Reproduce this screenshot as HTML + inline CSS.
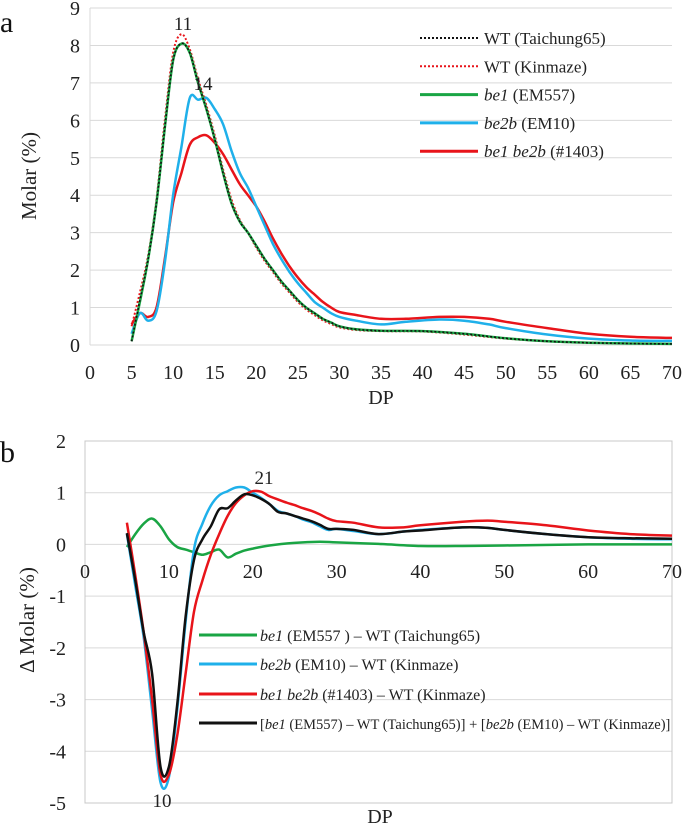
<!DOCTYPE html>
<html><head><meta charset="utf-8"><style>
html,body{margin:0;padding:0;background:#fff;}
svg{display:block;}
svg text{font-family:"Liberation Serif","Noto Serif CJK SC",serif;}
</style></head><body>
<svg id="chart" width="685" height="825" viewBox="0 0 685 825" font-family="Liberation Serif, serif">
<g id="gA"></g>
<g id="gB"></g>
</svg>
<script>
// ---- Panel a data ----
const aX1 = [5,6,7,8,9,10,11,12,13,14,15,16,17,18,19,20,21,22,23,24,25,26,27,28,29,30,32,35,40,45,50,55,60,65,70];
const aTaichung = [0.1,1.2,2.3,3.8,5.8,7.6,8.05,7.8,7.0,6.3,5.5,4.6,3.8,3.3,3.0,2.65,2.3,2.0,1.7,1.45,1.2,1.0,0.85,0.7,0.6,0.5,0.42,0.38,0.37,0.3,0.18,0.1,0.06,0.04,0.03];
const aKinmaze = [0.5,1.4,2.4,3.9,6.0,7.8,8.3,7.9,7.1,6.4,5.6,4.7,3.9,3.35,3.0,2.6,2.25,1.95,1.65,1.4,1.15,0.95,0.8,0.66,0.56,0.47,0.4,0.37,0.36,0.28,0.17,0.1,0.06,0.04,0.03];
const aBe1 = [0.1,1.15,2.3,3.8,5.8,7.6,8.05,7.8,7.0,6.3,5.5,4.6,3.8,3.3,3.0,2.65,2.3,2.0,1.7,1.45,1.2,1.0,0.85,0.7,0.6,0.5,0.42,0.38,0.37,0.3,0.18,0.1,0.06,0.04,0.03];
const aX2 = [5,6,7,8,9,10,11,12,13,14,15,16,17,18,19,20,21,22,23,24,25,26,27,28,29,30,32,35,38,42,45,48,50,55,60,65,70];
const aBe2b = [0.3,0.85,0.65,0.9,2.2,4.0,5.3,6.6,6.55,6.6,6.3,5.9,5.2,4.6,4.2,3.7,3.2,2.7,2.3,1.95,1.65,1.4,1.15,1.0,0.85,0.75,0.65,0.55,0.62,0.68,0.65,0.55,0.45,0.28,0.17,0.12,0.11];
const aBe1be2b = [0.55,0.85,0.75,1.0,2.3,3.8,4.6,5.35,5.55,5.6,5.4,5.1,4.7,4.3,4.0,3.7,3.3,2.85,2.45,2.1,1.8,1.55,1.35,1.15,1.0,0.88,0.8,0.7,0.7,0.75,0.75,0.7,0.62,0.45,0.3,0.22,0.19];
const aYTicks = [0,1,2,3,4,5,6,7,8,9];
const aXTicks = [0,5,10,15,20,25,30,35,40,45,50,55,60,65,70];
// ---- Panel b data ----
const bXg = [5,6,7,8,9,10,11,12,13,14,15,16,17,18,19,20,22,25,28,30,35,40,45,50,60,70];
const bGreen = [-0.05,0.2,0.4,0.5,0.35,0.1,-0.05,-0.1,-0.15,-0.2,-0.15,-0.1,-0.25,-0.18,-0.12,-0.08,-0.02,0.03,0.05,0.04,0.01,-0.03,-0.03,-0.02,0,0];
const bX = [5,6,7,8,9,10,11,12,13,14,15,16,17,18,19,20,21,22,23,24,25,26,27,28,29,30,32,35,38,40,45,48,50,55,60,65,70];
const bBlue = [0.2,-0.8,-1.8,-3.2,-4.6,-4.5,-3.2,-1.5,-0.1,0.4,0.75,0.95,1.03,1.1,1.1,1.0,0.9,0.78,0.65,0.6,0.55,0.48,0.43,0.35,0.28,0.3,0.26,0.2,0.25,0.28,0.33,0.32,0.28,0.2,0.14,0.11,0.1];
const bRed = [0.42,-0.6,-1.7,-3.0,-4.45,-4.45,-3.7,-2.5,-1.3,-0.7,-0.2,0.2,0.55,0.8,0.95,1.03,1.02,0.93,0.87,0.81,0.76,0.7,0.65,0.58,0.5,0.45,0.42,0.33,0.33,0.37,0.44,0.46,0.44,0.37,0.27,0.2,0.17];
const bBlack = [0.22,-0.7,-1.7,-2.5,-4.3,-4.3,-3.1,-1.4,-0.3,0.1,0.35,0.68,0.7,0.85,0.97,0.95,0.88,0.78,0.63,0.6,0.55,0.5,0.45,0.38,0.3,0.3,0.28,0.2,0.25,0.27,0.33,0.32,0.28,0.2,0.14,0.12,0.11];
const bYTicks = [-5,-4,-3,-2,-1,0,1,2];
const bXTicks = [0,10,20,30,40,50,60,70];

const NS="http://www.w3.org/2000/svg";
function mk(parent,tag,attrs,text){const e=document.createElementNS(NS,tag);for(const k in attrs)e.setAttribute(k,attrs[k]);if(tag==='text')e.setAttribute('font-family','Liberation Serif, serif');if(text!==undefined)e.textContent=text;parent.appendChild(e);return e;}
function smooth(pts){let d="M"+pts[0][0].toFixed(1)+","+pts[0][1].toFixed(1);
 for(let i=0;i<pts.length-1;i++){const p0=pts[i-1]||pts[i],p1=pts[i],p2=pts[i+1],p3=pts[i+2]||p2;
  const c1=[p1[0]+(p2[0]-p0[0])/6,p1[1]+(p2[1]-p0[1])/6],c2=[p2[0]-(p3[0]-p1[0])/6,p2[1]-(p3[1]-p1[1])/6];
  d+=` C${c1[0].toFixed(1)},${c1[1].toFixed(1)} ${c2[0].toFixed(1)},${c2[1].toFixed(1)} ${p2[0].toFixed(1)},${p2[1].toFixed(1)}`;}
 return d;}

// ===== Panel a =====
const A=document.getElementById('gA');
const axL=90,axR=672,ayT=8,ayB=345;
const ax=v=>axL+(v-0)/70*(axR-axL), ay=v=>ayB-(v/9)*(ayB-ayT);
aYTicks.forEach(t=>{
 const g=mk(A,'line',{x1:axL,x2:axR,y1:ay(t),y2:ay(t),stroke:'#d9d9d9','stroke-width':1});
 
 
 const l=mk(A,'text',{x:axL-10,y:ay(t)+7,'text-anchor':'end','font-size':20,fill:'#222'},String(t));
 
 
});
mk(A,'line',{x1:axL,x2:axL,y1:ayT,y2:ayB,stroke:'#d9d9d9','stroke-width':1});
aXTicks.forEach(t=>{
 const l=mk(A,'text',{x:ax(t),y:379,'text-anchor':'middle','font-size':20,fill:'#222'},String(t));
 
 
});
mk(A,'text',{x:381,y:404,'text-anchor':'middle','font-size':20,fill:'#222',},'DP');
mk(A,'text',{x:36,y:176,'text-anchor':'middle','font-size':21,fill:'#222',transform:'rotate(-90 36 176)',},'Molar (%)');
mk(A,'text',{x:0,y:32,'font-size':30,fill:'#111',},'a');
const aSeries=[[aX2,aBe1be2b,'#e8141a',2.5,null,'be1be2b'],[aX2,aBe2b,'#1fb0ea',2.5,null,'be2b'],[aX1,aKinmaze,'#e8141a',2,'2,2','wt-kinmaze'],[aX1,aBe1,'#1aa544',2.5,null,'be1'],[aX1,aTaichung,'#111',1.6,'2,2','wt-taichung']];
aSeries.forEach(s=>{const p=mk(A,'path',{d:smooth(s[0].map((x,i)=>[ax(x),ay(s[1][i])])),fill:'none',stroke:s[2],'stroke-width':s[3]});
 if(s[4])p.setAttribute('stroke-dasharray',s[4]);
 
 });
mk(A,'text',{x:183,y:30,'text-anchor':'middle','font-size':19,fill:'#222',},'11');
mk(A,'text',{x:203,y:90,'text-anchor':'middle','font-size':19,fill:'#222',},'14');
const aLeg=[['#111','2,2','WT',' (Taichung65)',false],['#e8141a','2,2','WT',' (Kinmaze)',false],['#1aa544',null,'be1',' (EM557)',true],['#1fb0ea',null,'be2b',' (EM10)',true],['#e8141a',null,'be1 be2b',' (#1403)',true]];
aLeg.forEach((e,i)=>{const y=38+i*28.3;
 const ln=mk(A,'line',{x1:420,x2:478,y1:y,y2:y,stroke:e[0],'stroke-width':e[1]?2:3});
 if(e[1])ln.setAttribute('stroke-dasharray',e[1]);
 
 
 const t=mk(A,'text',{x:484,y:y+6,'font-size':17,fill:'#222'});
 
 
 mk(t,'tspan',{'font-style':e[4]?'italic':'normal'},e[2]);mk(t,'tspan',{},e[3]);});

// ===== Panel b =====
const B=document.getElementById('gB');
const bxL=85,bxR=672,byT=441,byB=803;
const bx=v=>bxL+v/70*(bxR-bxL), by=v=>byB-(v+5)/7*(byB-byT);
bYTicks.forEach(t=>{
 const g=mk(B,'line',{x1:bxL,x2:bxR,y1:by(t),y2:by(t),stroke:'#d9d9d9','stroke-width':1});
 
 
 const l=mk(B,'text',{x:66,y:by(t)+7,'text-anchor':'end','font-size':20,fill:'#222'},String(t));
 
 
});
mk(B,'rect',{x:bxL,y:byT,width:bxR-bxL,height:byB-byT,fill:'none',stroke:'#c8c8c8','stroke-width':1,});
bXTicks.forEach(t=>{
 const l=mk(B,'text',{x:bx(t),y:578,'text-anchor':'middle','font-size':20,fill:'#222'},String(t));
 
 
});
mk(B,'text',{x:380,y:823,'text-anchor':'middle','font-size':20,fill:'#222',},'DP');
mk(B,'text',{x:34,y:620,'text-anchor':'middle','font-size':21,fill:'#222',transform:'rotate(-90 34 620)',},'Δ Molar (%)');
mk(B,'text',{x:0,y:462,'font-size':30,fill:'#111',},'b');
const bSeries=[[bXg,bGreen,'#1aa544','green'],[bX,bBlue,'#1fb0ea','blue'],[bX,bRed,'#e8141a','red'],[bX,bBlack,'#111','black']];
bSeries.forEach(s=>{const p=mk(B,'path',{d:smooth(s[0].map((x,i)=>[bx(x),by(s[1][i])])),fill:'none',stroke:s[2],'stroke-width':2.5});
 
 });
mk(B,'text',{x:264,y:484,'text-anchor':'middle','font-size':19,fill:'#222',},'21');
mk(B,'text',{x:162,y:807,'text-anchor':'middle','font-size':19,fill:'#222',},'10');
const bLeg=[['#1aa544',[['be1',1],[' (EM557 ) – WT (Taichung65)',0]]],['#1fb0ea',[[' be2b',1],[' (EM10) – WT (Kinmaze)',0]]],['#e8141a',[['be1 be2b',1],[' (#1403) – WT (Kinmaze)',0]]],['#111',[['[',0],['be1',1],[' (EM557) – WT (Taichung65)] + [',0],['be2b',1],[' (EM10) – WT (Kinmaze)]',0]]]];
bLeg.forEach((e,i)=>{const y=[635,664,694,723][i];
 const ln=mk(B,'line',{x1:199,x2:257,y1:y,y2:y,stroke:e[0],'stroke-width':3});
 
 
 const t=mk(B,'text',{x:260,y:y+6,'font-size':i==3?14.5:16,fill:'#222'});
 
 
 e[1].forEach(p=>mk(t,'tspan',{'font-style':p[1]?'italic':'normal'},p[0]));});
</script>
</body></html>
